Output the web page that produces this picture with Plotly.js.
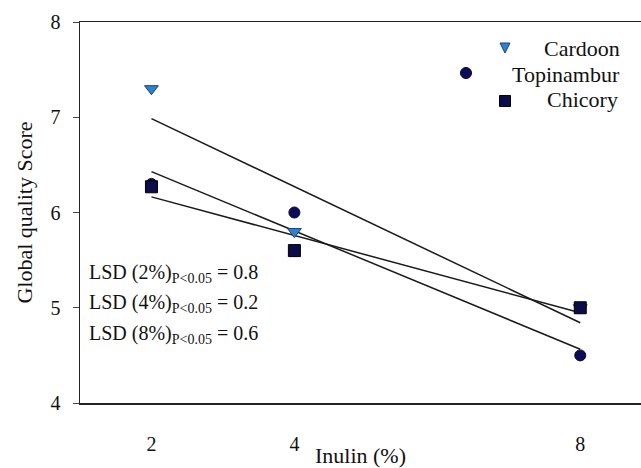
<!DOCTYPE html>
<html>
<head>
<meta charset="utf-8">
<script src="https://cdn.plot.ly/plotly-3.0.1.min.js"></script>
<style>html,body{margin:0;padding:0;background:#fff;}#chart{width:641px;height:468px;}</style>
</head>
<body>
<div id="chart"></div>
<script>
// Data
const inulin = [2, 4, 8];
const cardoon = [7.3, 5.8, 5.0];
const topinambur = [6.3, 6.0, 4.5];
const chicory = [6.27, 5.6, 5.0];
const xTicks = [2, 4, 8];
const yTicks = [4, 5, 6, 7, 8];
const lsdLabels = ["2%", "4%", "8%"];
const lsdValues = [0.8, 0.2, 0.6];
const seriesNames = ["Cardoon", "Topinambur", "Chicory"];

function fit(x, y) {
  const n = x.length;
  const mx = x.reduce((a, b) => a + b, 0) / n;
  const my = y.reduce((a, b) => a + b, 0) / n;
  let sxy = 0, sxx = 0;
  for (let i = 0; i < n; i++) { sxy += (x[i] - mx) * (y[i] - my); sxx += (x[i] - mx) ** 2; }
  const b = sxy / sxx, a = my - b * mx;
  const xs = [Math.min(...x), Math.max(...x)];
  return {x: xs, y: xs.map(v => a + b * v)};
}

const FONT = "'Liberation Serif', 'Times New Roman', serif";
const lineStyle = {color: '#1a1a1a', width: 1.5};
const traces = [];
[cardoon, topinambur, chicory].forEach(s => {
  const f = fit(inulin, s);
  traces.push({x: f.x, y: f.y, mode: 'lines', line: lineStyle, showlegend: false, hoverinfo: 'skip'});
});
traces.push({x: inulin, y: cardoon, mode: 'markers', name: seriesNames[0], showlegend: false,
  marker: {symbol: 'triangle-down', size: 12, color: '#2f80cf', line: {color: '#17407a', width: 1}}});
traces.push({x: inulin, y: topinambur, mode: 'markers', name: seriesNames[1], showlegend: false,
  marker: {symbol: 'circle', size: 11, color: '#0c0c5c', line: {color: '#05052e', width: 1}}});
traces.push({x: inulin, y: chicory, mode: 'markers', name: seriesNames[2], showlegend: false,
  marker: {symbol: 'square', size: 12, color: '#0c0c48', line: {color: '#000', width: 1}}});

// plot area: left 80, top 22, right 641, bottom 403
const L = 80, T = 22, W = 561, H = 381;
const px = p => (p - L) / W;
const py = p => (403 - p) / H;

const annotations = [];
lsdLabels.forEach((lab, i) => {
  annotations.push({xref: 'paper', yref: 'paper', x: px(87), y: py(273 + i * 30.5), xanchor: 'left', yanchor: 'middle',
    showarrow: false, text: 'LSD (' + lab + ')<sub>P&lt;0.05</sub> = ' + lsdValues[i].toFixed(1),
    font: {family: FONT, size: 20, color: '#111'}});
});
const legendPos = [[542, 48], [510, 74], [545, 100]];
seriesNames.forEach((n, i) => {
  annotations.push({xref: 'paper', yref: 'paper', x: px(legendPos[i][0]), y: py(legendPos[i][1]), xanchor: 'left', yanchor: 'middle',
    showarrow: false, text: n, font: {family: FONT, size: 22, color: '#111'}});
});

const shapes = [
  {type: 'path', xref: 'paper', yref: 'paper', xsizemode: 'pixel', ysizemode: 'pixel',
   xanchor: px(505), yanchor: py(48), path: 'M-5,5 L5,5 L0,-5 Z', fillcolor: '#2f80cf', line: {color: '#17407a', width: 1}},
  {type: 'circle', xref: 'paper', yref: 'paper', xsizemode: 'pixel', ysizemode: 'pixel',
   xanchor: px(466), yanchor: py(73), x0: -5.5, x1: 5.5, y0: -5.5, y1: 5.5, fillcolor: '#0c0c5c', line: {color: '#05052e', width: 1}},
  {type: 'rect', xref: 'paper', yref: 'paper', xsizemode: 'pixel', ysizemode: 'pixel',
   xanchor: px(505), yanchor: py(101), x0: -5.5, x1: 5.5, y0: -5.5, y1: 5.5, fillcolor: '#0c0c48', line: {color: '#000', width: 1}}
];

const layout = {
  width: 641, height: 468,
  margin: {l: L, t: T, r: 0, b: 468 - 403},
  paper_bgcolor: '#fff', plot_bgcolor: '#fff',
  font: {family: FONT, color: '#111'},
  xaxis: {range: [1.0, 8.85], tickvals: xTicks, ticktext: xTicks.map(String), showgrid: false, zeroline: false,
    showline: true, mirror: true, linecolor: '#222', linewidth: 1.5, ticks: 'outside', ticklen: 22, tickcolor: 'rgba(0,0,0,0)',
    tickfont: {family: FONT, size: 20, color: '#111'},
    title: {text: 'Inulin (%)', font: {family: FONT, size: 22, color: '#111'}, standoff: 2}},
  yaxis: {range: [4, 8], tickvals: yTicks, ticktext: yTicks.map(String), showgrid: false, zeroline: false,
    showline: true, linecolor: '#222', linewidth: 1.5, ticks: 'outside', ticklen: 6, tickcolor: '#444',
    ticklabelstandoff: 8,
    tickfont: {family: FONT, size: 20, color: '#111'},
    title: {text: 'Global quality Score', font: {family: FONT, size: 22, color: '#111'}, standoff: 12}},
  annotations: annotations,
  shapes: shapes,
  showlegend: false
};

Plotly.newPlot('chart', traces, layout, {staticPlot: true, displayModeBar: false});
</script>
</body>
</html>
